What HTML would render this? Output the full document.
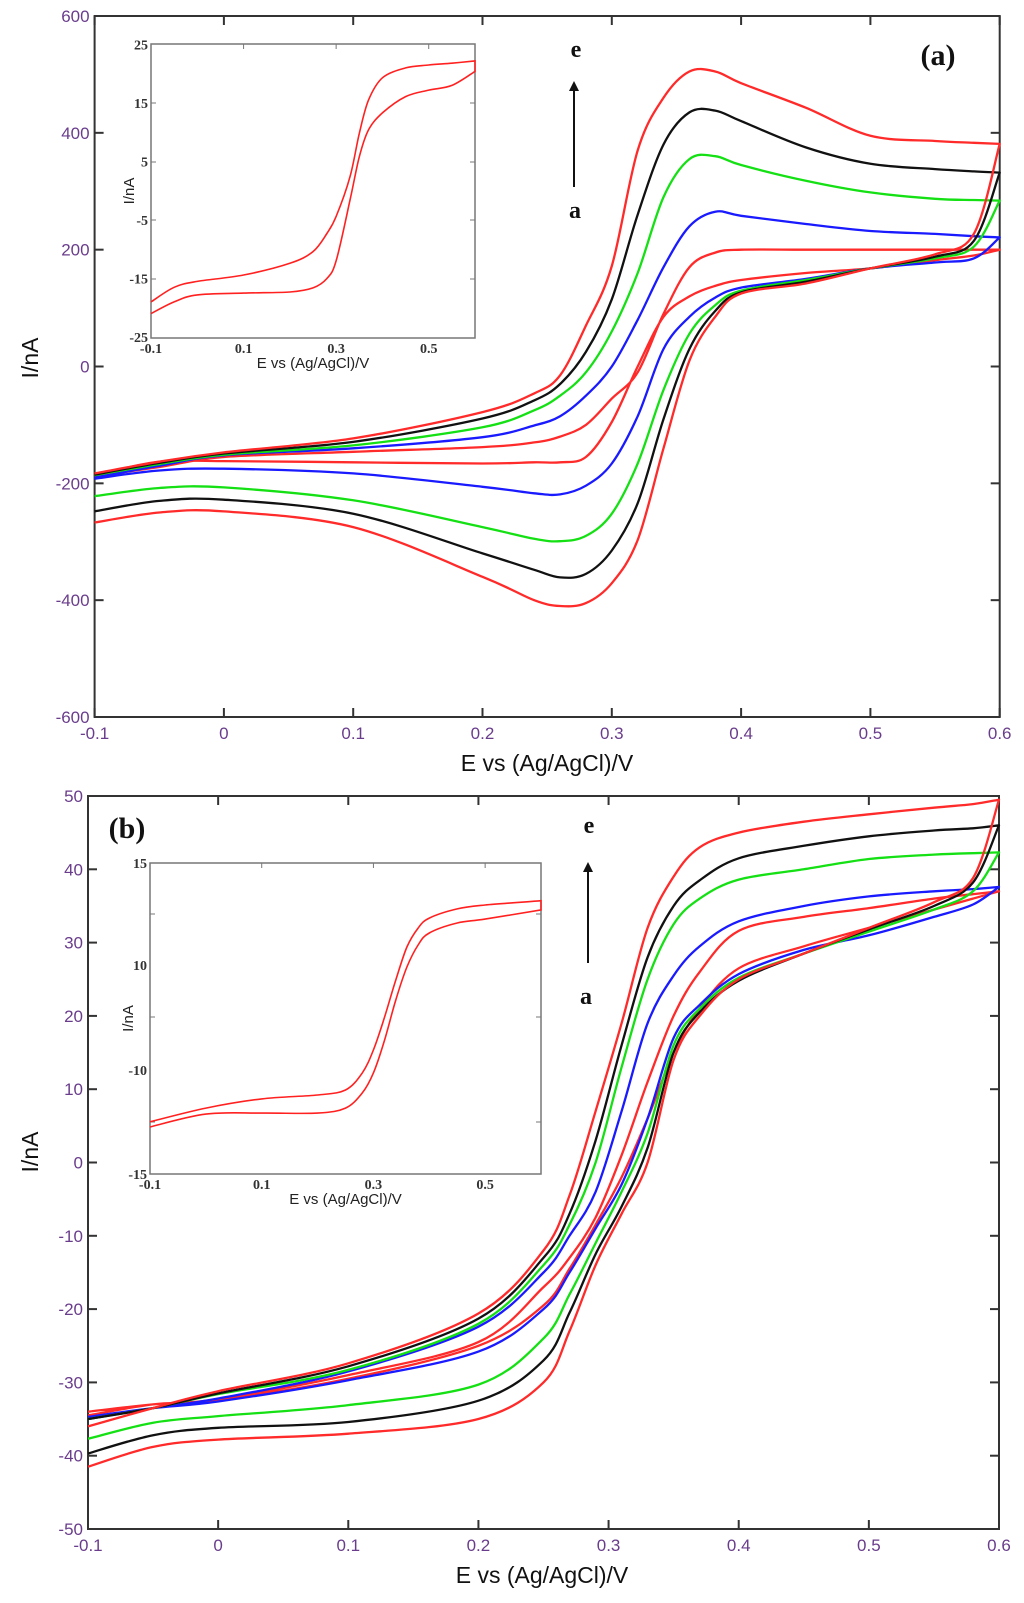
<!DOCTYPE html>
<html><head><meta charset="utf-8"><style>
html,body{margin:0;padding:0;background:#fff;}
svg{display:block;}
.tl{font-family:"Liberation Sans",sans-serif;font-size:17px;fill:#6a3d8c;}
.tt{font-family:"Liberation Sans",sans-serif;font-size:23px;fill:#111;}
.it{font-family:"Liberation Serif",serif;font-size:14px;font-weight:bold;fill:#333;}
.ia{font-family:"Liberation Sans",sans-serif;font-size:15px;fill:#222;}
.ann{font-family:"Liberation Serif",serif;font-weight:bold;fill:#111;}
</style></head><body>
<svg id="fig" width="1024" height="1603" viewBox="0 0 1024 1603" xmlns="http://www.w3.org/2000/svg"></svg>
<script>
// ---------- Panel (a) data ----------
const ePotA = [-0.1,-0.05,0,0.1,0.2,0.24,0.26,0.28,0.3,0.32,0.34,0.36,0.38,0.4,0.45,0.5,0.55,0.58,0.6];
const aUpRedA  = [-188,-172,-155,-146,-138,-130,-120,-100,-55,-10,90,170,195,200,200,200,200,200,200];
const aUpBlue  = [-190,-170,-152,-140,-121,-101,-85,-50,0,80,170,240,265,258,244,232,227,223,221];
const aUpGreen = [-186,-167,-151,-135,-104,-75,-50,-10,60,160,290,355,360,345,318,298,287,285,284];
const aUpBlack = [-185,-165,-149,-129,-89,-58,-30,25,115,260,380,435,438,420,375,347,338,334,332];
const aUpRedE  = [-183,-163,-147,-123,-78,-46,-15,70,172,370,460,505,505,485,443,395,386,383,381];
const aLoRedA  = [-186,-163,-162,-164,-166,-164,-164,-155,-95,0,85,120,138,148,160,168,182,190,200];
const aLoBlue  = [-192,-178,-175,-183,-206,-217,-219,-204,-166,-85,30,85,118,135,150,168,178,185,221];
const aLoGreen = [-222,-208,-207,-229,-275,-295,-299,-290,-252,-166,-40,56,105,130,148,168,185,205,284];
const aLoBlack = [-248,-230,-228,-252,-320,-348,-361,-355,-315,-234,-90,30,95,127,145,168,188,215,332];
const aLoRedE  = [-267,-250,-248,-275,-360,-400,-410,-405,-371,-297,-140,10,85,125,142,168,192,227,381];
const aYTicks = [600,400,200,0,-200,-400,-600];
const xTicks = [-0.1,0,0.1,0.2,0.3,0.4,0.5,0.6];
const xTickLabels = ["-0.1","0","0.1","0.2","0.3","0.4","0.5","0.6"];

// ---------- Panel (b) data ----------
const ePotB = [-0.1,-0.05,0,0.1,0.2,0.25,0.27,0.29,0.31,0.33,0.35,0.37,0.4,0.45,0.5,0.55,0.58,0.6];
const bUpRedE  = [-36,-33.5,-31.2,-27.4,-20.6,-12,-4.5,7,19,32,39,43,45,46.5,47.5,48.4,48.9,49.5];
const bUpBlack = [-35,-33.5,-31.5,-27.8,-21.3,-13,-7,3,16,28,35,38.5,41.5,43.2,44.5,45.3,45.6,46];
const bUpGreen = [-35,-33.5,-31.6,-28.3,-22,-14,-8.5,0,13,25,32.5,36,38.6,40,41.4,42,42.2,42.3];
const bUpBlue  = [-35,-33.5,-32.2,-28.5,-22.4,-15,-10,-4,7,19,25.5,29.5,32.9,35,36.3,37,37.3,37.6];
const bUpRedA  = [-34,-33,-32.3,-29,-24.5,-17,-13,-7.5,1,11,20,26,31.6,33.5,34.7,36,36.6,37];
const bLoRedA  = [-34.5,-33,-32.4,-29.5,-25,-19.5,-14.5,-8.5,-2,6,15,21,26.5,29.5,32,34.5,36,37];
const bLoBlue  = [-34.7,-33.5,-32.6,-29.7,-25.8,-20,-15,-9,-3,6,17,21.5,25.7,29,31,33.5,35.2,37.6];
const bLoGreen = [-37.7,-35.5,-34.6,-33.1,-30.3,-24,-18,-11,-4,4,16,21,25.2,28.5,31.5,34.5,37,42.3];
const bLoBlack = [-39.7,-37.2,-36.2,-35.4,-32.5,-27,-20.5,-12.5,-6,2,15,20.5,24.8,28.5,31.8,35,38.2,46];
const bLoRedE  = [-41.5,-38.8,-37.8,-37,-35,-30,-23,-14,-7,0,14,20,25,28.5,32,35.5,38.8,49.5];
const bYTicks = [50,40,30,20,10,0,-10,-20,-30,-40,-50];

// ---------- Inset data ----------
const ePotIA = [-0.1,-0.05,0,0.1,0.2,0.25,0.28,0.3,0.33,0.35,0.37,0.4,0.45,0.5,0.55,0.6];
const iaUp = [-19,-16.5,-15.5,-14.4,-12.4,-10.4,-7.3,-4.4,2.4,9.8,15.5,19.3,21,21.5,21.8,22.2];
const iaLo = [-21,-19,-17.8,-17.5,-17.3,-16.6,-15,-12,-1.6,5.8,10.4,13.3,16.1,17.2,18,20.4];
const iaYTicks = [25,15,5,-5,-15,-25];
const ePotIB = [-0.1,0,0.1,0.2,0.25,0.28,0.3,0.32,0.34,0.36,0.38,0.4,0.45,0.5,0.6];
const ibUp = [-12.49,-11.83,-11.39,-11.2,-10.96,-10.14,-6.19,0.1,7.14,10.88,11.81,12.3,12.75,12.94,13.15];
const ibLo = [-12.74,-12.12,-12.07,-12.07,-11.83,-11.1,-10.14,-4.29,3.33,9.62,10.98,11.57,12.06,12.25,12.7];
const ibYTicks = [15,10,-10,-15];
const insetXTicks = [-0.1,0.1,0.3,0.5];
const insetXLabels = ["-0.1","0.1","0.3","0.5"];

const NS="http://www.w3.org/2000/svg";
const svg=document.getElementById('fig');
function mk(tag,attrs,parent){const e=document.createElementNS(NS,tag);for(const k in attrs)e.setAttribute(k,attrs[k]);(parent||svg).appendChild(e);return e;}
function lin(d0,d1,r0,r1){return v=>r0+(v-d0)*(r1-r0)/(d1-d0);}
function pw(dom,rng){return v=>{for(let i=0;i<dom.length-1;i++){const a=dom[i],b=dom[i+1];if((v>=Math.min(a,b)&&v<=Math.max(a,b))||i==dom.length-2){return rng[i]+(v-a)*(rng[i+1]-rng[i])/(b-a);}}};}
function smooth(pts){let d="M"+pts[0][0].toFixed(1)+","+pts[0][1].toFixed(1);
 for(let i=0;i<pts.length-1;i++){const p0=pts[Math.max(0,i-1)],p1=pts[i],p2=pts[i+1],p3=pts[Math.min(pts.length-1,i+2)];
  const c1=[p1[0]+(p2[0]-p0[0])/6,p1[1]+(p2[1]-p0[1])/6],c2=[p2[0]-(p3[0]-p1[0])/6,p2[1]-(p3[1]-p1[1])/6];
  d+=" C"+c1[0].toFixed(1)+","+c1[1].toFixed(1)+" "+c2[0].toFixed(1)+","+c2[1].toFixed(1)+" "+p2[0].toFixed(1)+","+p2[1].toFixed(1);}
 return d;}
function cvPath(E,up,lo,sx,sy){const a=E.map((e,i)=>[sx(e),sy(up[i])]);const b=E.map((e,i)=>[sx(e),sy(lo[i])]).reverse();return smooth(a)+" "+smooth(b).replace("M","L");}

function panel(p){
 const g=mk('g',{});
 
 
 const sx=lin(-0.1,0.6,p.x0,p.x1), sy=lin(p.yMin,p.yMax,p.y1,p.y0);
 const box=mk('rect',{x:p.x0,y:p.y0,width:p.x1-p.x0,height:p.y1-p.y0,fill:'none',stroke:'#333','stroke-width':2},g);
 
 
 p.yt.forEach(v=>{const y=sy(v);
  mk('line',{x1:p.x0,x2:p.x0+9,y1:y,y2:y,stroke:'#333','stroke-width':2},g);
  mk('line',{x1:p.x1,x2:p.x1-9,y1:y,y2:y,stroke:'#333','stroke-width':2},g);
  const t=mk('text',{x:p.x0-5,y:y+6,'text-anchor':'end',class:'tl'},g);t.textContent=v;
  
  });
 xTicks.forEach((v,i)=>{const x=sx(v);
  mk('line',{x1:x,x2:x,y1:p.y1,y2:p.y1-9,stroke:'#333','stroke-width':2},g);
  mk('line',{x1:x,x2:x,y1:p.y0,y2:p.y0+9,stroke:'#333','stroke-width':2},g);
  const t=mk('text',{x:x,y:p.y1+22,'text-anchor':'middle',class:'tl'},g);t.textContent=xTickLabels[i];
  
  });
 const xt=mk('text',{x:p.xtX,y:p.xtY,'text-anchor':'middle',class:'tt'},g);xt.textContent="E vs (Ag/AgCl)/V";
 
 
 const yt=mk('text',{x:0,y:0,'text-anchor':'middle',class:'tt',transform:`translate(38,${p.ytY}) rotate(-90)`},g);yt.textContent="I/nA";
 
 
 p.series.forEach(s=>{const el=mk('path',{d:cvPath(p.E,s.up,s.lo,sx,sy),fill:'none',stroke:s.c,'stroke-width':2.3,'stroke-linejoin':'round'},g);
  
  });
 return g;}

const RED='#ff2a2a',BLK='#111',GRN='#14e014',BLU='#1a1aff';
panel({name:'panel-a',x0:94.6,x1:999.7,y0:16,y1:717,yMin:-600,yMax:600,yt:aYTicks,xtX:547,xtY:771,ytY:358,E:ePotA,
 series:[{n:'cv-a-curve',c:RED,up:aUpRedA,lo:aLoRedA},{n:'cv-b-curve',c:BLU,up:aUpBlue,lo:aLoBlue},{n:'cv-c-curve',c:GRN,up:aUpGreen,lo:aLoGreen},{n:'cv-d-curve',c:BLK,up:aUpBlack,lo:aLoBlack},{n:'cv-e-curve',c:RED,up:aUpRedE,lo:aLoRedE}]});
panel({name:'panel-b',x0:88,x1:999,y0:796,y1:1529,yMin:-50,yMax:50,yt:bYTicks,xtX:542,xtY:1583,ytY:1152,E:ePotB,
 series:[{n:'cv-a-curve',c:RED,up:bUpRedA,lo:bLoRedA},{n:'cv-b-curve',c:BLU,up:bUpBlue,lo:bLoBlue},{n:'cv-c-curve',c:GRN,up:bUpGreen,lo:bLoGreen},{n:'cv-d-curve',c:BLK,up:bUpBlack,lo:bLoBlack},{n:'cv-e-curve',c:RED,up:bUpRedE,lo:bLoRedE}]});

function inset(p){
 const g=mk('g',{});
 
 
 mk('rect',{x:p.x0,y:p.y0,width:p.x1-p.x0,height:p.y1-p.y0,fill:'#fff',stroke:'#777','stroke-width':1.5},g);
 const sx=lin(-0.1,0.6,p.x0,p.x1);
 const sy=p.sy;
 p.minor.forEach(y=>{mk('line',{x1:p.x0,x2:p.x0+5,y1:y,y2:y,stroke:'#777'},g);mk('line',{x1:p.x1,x2:p.x1-5,y1:y,y2:y,stroke:'#777'},g);});
 p.yt.forEach(v=>{const t=mk('text',{x:p.x0-3,y:sy(v)+5,'text-anchor':'end',class:'it'},g);t.textContent=v;
  
  });
 insetXTicks.forEach((v,i)=>{const x=sx(v);
  mk('line',{x1:x,x2:x,y1:p.y0,y2:p.y0+5,stroke:'#777'},g);
  const t=mk('text',{x:x,y:p.y1+15,'text-anchor':'middle',class:'it'},g);t.textContent=insetXLabels[i];
  
  });
 const xt=mk('text',{x:(p.x0+p.x1)/2,y:p.y1+30,'text-anchor':'middle',class:'ia'},g);xt.textContent="E vs (Ag/AgCl)/V";
 
 
 const yt=mk('text',{x:0,y:0,'text-anchor':'middle',class:'ia',transform:`translate(${p.x0-17},${(p.y0+p.y1)/2}) rotate(-90)`},g);yt.textContent="I/nA";
 
 
 const el=mk('path',{d:cvPath(p.E,p.up,p.lo,sx,sy),fill:'none',stroke:'#ff2020','stroke-width':1.6},g);
 
 }

inset({name:'inset-a',x0:151,x1:475,y0:44,y1:338,sy:lin(-25,25,337,44.5),yt:iaYTicks,minor:[103,162,220,279],E:ePotIA,up:iaUp,lo:iaLo});
inset({name:'inset-b',x0:150,x1:541,y0:863,y1:1174,sy:pw([-15,-10,10,15],[1174,1070,965,863]),yt:ibYTicks,minor:[914,1017,1122],E:ePotIB,up:ibUp,lo:ibLo});

// annotations
function ann(txt,x,y,size,name){const t=mk('text',{x:x,y:y,'text-anchor':'middle',class:'ann','font-size':size});t.textContent=txt;
 
 }
ann('(a)',938,65,30,'panel-a-label');
ann('(b)',127,838,30,'panel-b-label');
ann('e',576,57,24,'arrow-label-e');
ann('a',575,218,24,'arrow-label-a');
ann('e',589,833,24,'arrow-label-e');
ann('a',586,1004,24,'arrow-label-a');
function arrow(x,yb,yt,name){const g=mk('g',{});
 
 
 mk('line',{x1:x,x2:x,y1:yb,y2:yt+8,stroke:'#111','stroke-width':2},g);
 mk('path',{d:`M${x-5},${yt+10} L${x},${yt} L${x+5},${yt+10} Z`,fill:'#111'},g);}
arrow(574,187,81,'trend-arrow');
arrow(588,963,862,'trend-arrow');
</script>
</body></html>
